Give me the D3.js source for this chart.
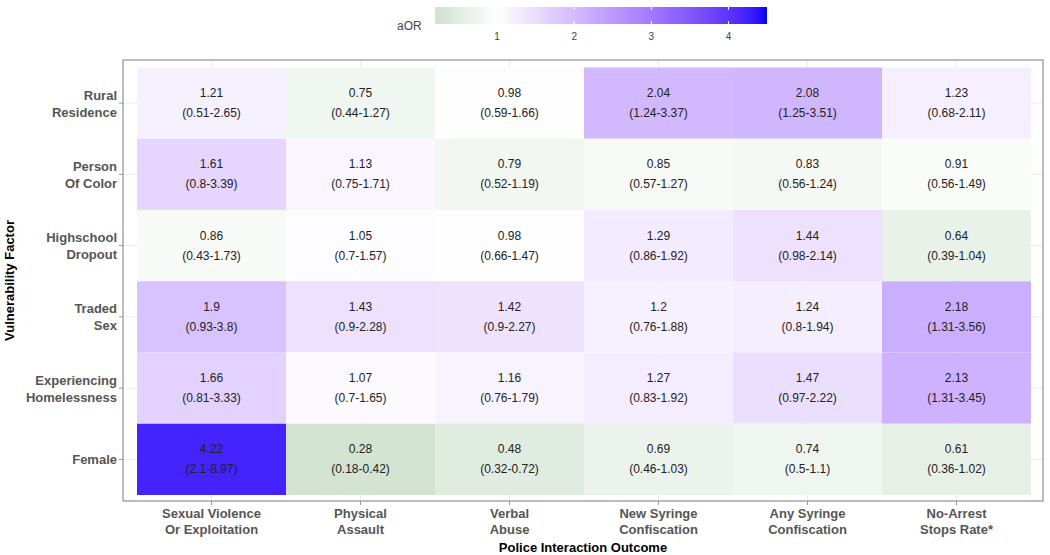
<!DOCTYPE html>
<html>
<head>
<meta charset="utf-8">
<script src="https://cdn.jsdelivr.net/npm/d3@7"></script>
<style>
  body { margin: 0; background: #fff; }
  svg { font-family: "Liberation Sans", Arial, sans-serif; }
</style>
</head>
<body>
<svg id="chart" width="1050" height="555"></svg>
<script>
// ---------- data ----------
const outcomes = [
  "Sexual Violence\nOr Exploitation",
  "Physical\nAssault",
  "Verbal\nAbuse",
  "New Syringe\nConfiscation",
  "Any Syringe\nConfiscation",
  "No-Arrest\nStops Rate*"
];
const factors = [
  "Rural\nResidence",
  "Person\nOf Color",
  "Highschool\nDropout",
  "Traded\nSex",
  "Experiencing\nHomelessness",
  "Female"
];
// aOR values, one array per factor (columns follow outcomes)
const aorRural    = [1.21, 0.75, 0.98, 2.04, 2.08, 1.23];
const aorColor    = [1.61, 1.13, 0.79, 0.85, 0.83, 0.91];
const aorDropout  = [0.86, 1.05, 0.98, 1.29, 1.44, 0.64];
const aorTraded   = [1.9, 1.43, 1.42, 1.2, 1.24, 2.18];
const aorHomeless = [1.66, 1.07, 1.16, 1.27, 1.47, 2.13];
const aorFemale   = [4.22, 0.28, 0.48, 0.69, 0.74, 0.61];
// 95% CI labels
const ciRural    = ["0.51-2.65", "0.44-1.27", "0.59-1.66", "1.24-3.37", "1.25-3.51", "0.68-2.11"];
const ciColor    = ["0.8-3.39", "0.75-1.71", "0.52-1.19", "0.57-1.27", "0.56-1.24", "0.56-1.49"];
const ciDropout  = ["0.43-1.73", "0.7-1.57", "0.66-1.47", "0.86-1.92", "0.98-2.14", "0.39-1.04"];
const ciTraded   = ["0.93-3.8", "0.9-2.28", "0.9-2.27", "0.76-1.88", "0.8-1.94", "1.31-3.56"];
const ciHomeless = ["0.81-3.33", "0.7-1.65", "0.76-1.79", "0.83-1.92", "0.97-2.22", "1.31-3.45"];
const ciFemale   = ["2.1-8.97", "0.18-0.42", "0.32-0.72", "0.46-1.03", "0.5-1.1", "0.36-1.02"];
const legendTicks = [1, 2, 3, 4];
const legendLimits = [0.195, 4.5];
const aorMidpoint = 1;

const aorRows = [aorRural, aorColor, aorDropout, aorTraded, aorHomeless, aorFemale];
const ciRows = [ciRural, ciColor, ciDropout, ciTraded, ciHomeless, ciFemale];
const cells = [];
factors.forEach((f, i) => outcomes.forEach((o, j) => {
  cells.push({ factor: f, outcome: o, aor: aorRows[i][j], ci: ciRows[i][j] });
}));

// ---------- layout ----------
const svg = d3.select("#chart");
const panel = { x0: 123, x1: 1043, y0: 60, y1: 501 };
const x = d3.scaleBand().domain(outcomes).range([137, 1031]);
const y = d3.scaleBand().domain(factors).range([67.5, 495]);

// colour: ggplot-like gradient2 (rescale around midpoint), Lab interpolation
const maxDist = Math.max(legendLimits[1] - aorMidpoint, aorMidpoint - legendLimits[0]);
const lowColor = d3.lab(47, -39, 31) + "";
const color = d3.scaleDiverging(d3.piecewise(d3.interpolateLab, [lowColor, "white", "blue"]))
  .domain([aorMidpoint - maxDist, aorMidpoint, aorMidpoint + maxDist]);

// panel background + grid
svg.append("rect").attr("x", panel.x0).attr("y", panel.y0)
  .attr("width", panel.x1 - panel.x0).attr("height", panel.y1 - panel.y0)
  .attr("fill", "#fff");
const grid = svg.append("g").attr("stroke", "#ebebeb").attr("stroke-width", 1);
outcomes.forEach(o => grid.append("line")
  .attr("x1", x(o) + x.bandwidth() / 2).attr("x2", x(o) + x.bandwidth() / 2)
  .attr("y1", panel.y0).attr("y2", panel.y1));
factors.forEach(f => grid.append("line")
  .attr("y1", y(f) + y.bandwidth() / 2).attr("y2", y(f) + y.bandwidth() / 2)
  .attr("x1", panel.x0).attr("x2", panel.x1));

// tiles
svg.append("g").selectAll("rect").data(cells).join("rect")
  .attr("x", d => x(d.outcome)).attr("y", d => y(d.factor))
  .attr("width", x.bandwidth()).attr("height", y.bandwidth())
  .attr("fill", d => color(d.aor));

// cell labels
const lab = svg.append("g").attr("font-size", 12).attr("fill", "#222").attr("text-anchor", "middle");
cells.forEach(d => {
  const cx = x(d.outcome) + x.bandwidth() / 2;
  const cy = y(d.factor) + y.bandwidth() / 2;
  lab.append("text").attr("x", cx).attr("y", cy - 6).text(String(d.aor));
  lab.append("text").attr("x", cx).attr("y", cy + 14).text("(" + d.ci + ")");
});

// panel border
svg.append("rect").attr("x", panel.x0).attr("y", panel.y0)
  .attr("width", panel.x1 - panel.x0).attr("height", panel.y1 - panel.y0)
  .attr("fill", "none").attr("stroke", "#999").attr("stroke-width", 1.3);

// y axis
const yAx = svg.append("g");
factors.forEach(f => {
  const cy = y(f) + y.bandwidth() / 2;
  yAx.append("line").attr("x1", panel.x0 - 4).attr("x2", panel.x0)
    .attr("y1", cy).attr("y2", cy).attr("stroke", "#999");
  const lines = f.split("\n");
  const t = yAx.append("text").attr("text-anchor", "end").attr("font-size", 13)
    .attr("font-weight", "bold").attr("fill", "#555");
  lines.forEach((l, k) => t.append("tspan").attr("x", 117)
    .attr("y", cy + 5 + (k - (lines.length - 1) / 2) * 17).text(l));
});
// x axis
const xAx = svg.append("g");
outcomes.forEach(o => {
  const cx = x(o) + x.bandwidth() / 2;
  xAx.append("line").attr("x1", cx).attr("x2", cx)
    .attr("y1", panel.y1).attr("y2", panel.y1 + 4).attr("stroke", "#999");
  const lines = o.split("\n");
  const t = xAx.append("text").attr("text-anchor", "middle").attr("font-size", 13)
    .attr("font-weight", "bold").attr("fill", "#555");
  lines.forEach((l, k) => t.append("tspan").attr("x", cx).attr("y", 518 + k * 16).text(l));
});

// axis titles
svg.append("text").attr("x", (panel.x0 + panel.x1) / 2).attr("y", 552)
  .attr("text-anchor", "middle").attr("font-size", 13).attr("font-weight", "bold")
  .attr("fill", "#000").text("Police Interaction Outcome");
svg.append("text").attr("transform", `translate(14,${(panel.y0 + panel.y1) / 2}) rotate(-90)`)
  .attr("text-anchor", "middle").attr("font-size", 13).attr("font-weight", "bold")
  .attr("fill", "#000").text("Vulnerability Factor");

// legend
const lx = d3.scaleLinear().domain(legendLimits).range([435, 767]);
const defs = svg.append("defs");
const grad = defs.append("linearGradient").attr("id", "lg").attr("x1", "0%").attr("x2", "100%");
d3.range(0, 1.0001, 0.02).forEach(s => {
  const v = legendLimits[0] + s * (legendLimits[1] - legendLimits[0]);
  grad.append("stop").attr("offset", (s * 100) + "%").attr("stop-color", color(v));
});
svg.append("rect").attr("x", lx(legendLimits[0])).attr("y", 7)
  .attr("width", lx(legendLimits[1]) - lx(legendLimits[0])).attr("height", 17)
  .attr("fill", "url(#lg)");
legendTicks.forEach(tk => {
  svg.append("line").attr("x1", lx(tk)).attr("x2", lx(tk)).attr("y1", 7).attr("y2", 10)
    .attr("stroke", "#fff").attr("stroke-width", 1);
  svg.append("line").attr("x1", lx(tk)).attr("x2", lx(tk)).attr("y1", 21).attr("y2", 24)
    .attr("stroke", "#fff").attr("stroke-width", 1);
  svg.append("text").attr("x", lx(tk)).attr("y", 40).attr("text-anchor", "middle")
    .attr("font-size", 10).attr("fill", "#444").text(tk);
});
svg.append("text").attr("x", 397).attr("y", 30).attr("font-size", 12)
  .attr("fill", "#444").text("aOR");
</script>
</body>
</html>
